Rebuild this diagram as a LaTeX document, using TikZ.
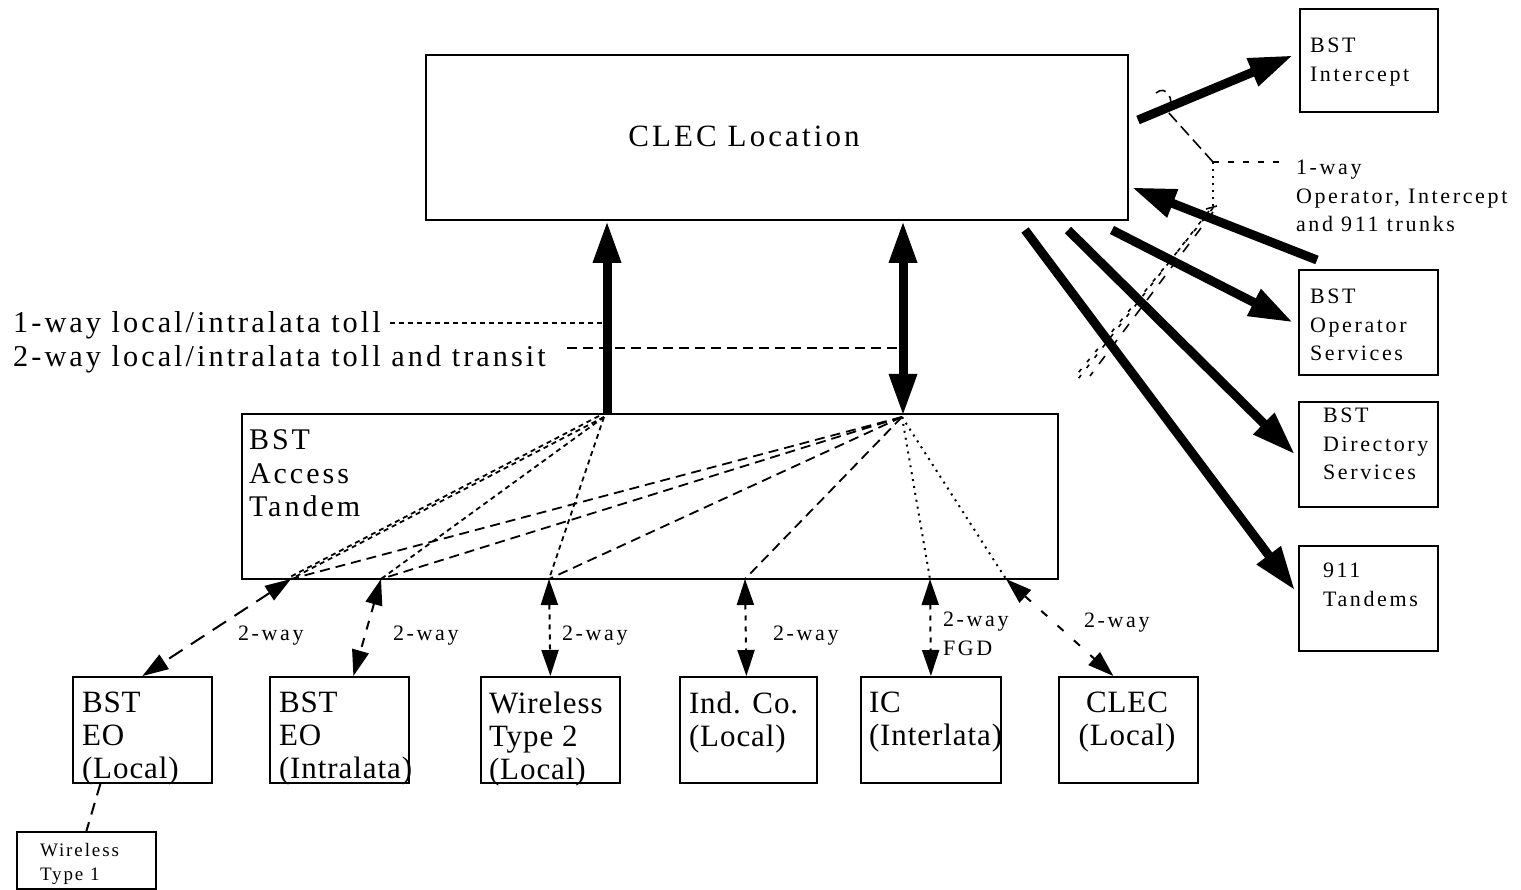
\documentclass[tikz,border=0pt]{standalone}
\usepackage{fontspec}
\setmainfont{Liberation Serif}
\newfontfamily\tf{Liberation Serif}[LetterSpace=10]
\newfontfamily\tfs{Liberation Serif}[LetterSpace=12]
\newfontfamily\tfn{Liberation Serif}[LetterSpace=3]
\usetikzlibrary{arrows.meta,calc}
\newcommand\fbig{\tf\fontsize{30.3}{33.5}\selectfont}
\newcommand\fat{\tf\fontsize{30}{33.5}\selectfont}
\newcommand\fbx{\tfn\fontsize{31}{33}\selectfont}
\newcommand\fclec{\tf\fontsize{31}{34}\selectfont}
\newcommand\fsm{\tfs\fontsize{22}{28.5}\selectfont}
\newcommand\ftiny{\tf\fontsize{19}{24}\selectfont}
\begin{document}
\begin{tikzpicture}[x=1pt,y=-1pt,
  box/.style={draw, line width=1.8pt, inner sep=0pt, anchor=north west},
  txt/.style={inner sep=0pt, outer sep=0pt, anchor=north west, align=left},
  lbl/.style={inner sep=0pt, outer sep=0pt, anchor=base west, font=\fsm},
  thickarrow/.style={line width=9pt, -{Triangle[length=44pt,width=28pt]}},
  bigtip/.style={-{Triangle[length=42pt,width=26pt]}},
  onew/.style={line width=1.8pt, dash pattern=on 5pt off 4pt},
  twow/.style={line width=1.8pt, dash pattern=on 10pt off 6pt},
  fgd/.style={line width=2pt, dash pattern=on 2pt off 5pt},
  ba/.style={line width=2pt, {Triangle[length=26pt,width=17pt]}-{Triangle[length=26pt,width=17pt]}}
]
\useasboundingbox (0,0) rectangle (1521,890);

% boxes
\node[box, minimum width=702pt, minimum height=165pt] (clec) at (425,54) {};
\node[box, minimum width=138pt, minimum height=103pt] (inter) at (1299,8) {};
\node[box, minimum width=139pt, minimum height=105pt] (oper) at (1298,269) {};
\node[box, minimum width=139pt, minimum height=105pt] (dir) at (1298,401) {};
\node[box, minimum width=139pt, minimum height=105pt] (t911) at (1298,545) {};
\node[box, minimum width=816pt, minimum height=165pt] (at) at (241,413) {};
\node[box, minimum width=139pt, minimum height=106pt] (eol) at (72,676) {};
\node[box, minimum width=139pt, minimum height=106pt] (eoi) at (269,676) {};
\node[box, minimum width=139pt, minimum height=106pt] (wl2) at (480,676) {};
\node[box, minimum width=137pt, minimum height=106pt] (ind) at (679,676) {};
\node[box, minimum width=140pt, minimum height=106pt] (ic) at (860,676) {};
\node[box, minimum width=139pt, minimum height=106pt] (clecl) at (1058,676) {};
\node[box, minimum width=139pt, minimum height=57pt] (wl1) at (16,831) {};

% box texts
\node[inner sep=0pt, anchor=base, font=\fclec] (tclec) at (744,147) {CLEC Location};
\node[txt, font=\fat] (tat) at (249,430) {BST\\Access\\Tandem};
\node[txt, font=\fbx] (teol) at (82,692) {BST\\EO\\(Local)};
\node[txt, font=\fbx] (teoi) at (279,692) {BST\\EO\\(Intralata)};
\node[txt, font=\fbx] (twl2) at (489,692) {Wireless\\Type 2\\(Local)};
\node[txt, font=\fbx] (tind) at (689,692) {Ind. Co.\\(Local)};
\node[txt, font=\fbx] (tic) at (869,692) {IC\\(Interlata)};
\node[inner sep=0pt, anchor=north, align=center, font=\fbx] (tclecl) at (1127,692) {CLEC\\(Local)};
\node[txt, font=\ftiny] (twl1) at (40,843) {Wireless\\Type 1};
\node[txt, font=\fsm] (tinter) at (1310,38) {BST\\Intercept};
\node[txt, font=\fsm] (toper) at (1310,289) {BST\\Operator\\Services};
\node[txt, font=\fsm] (tdir) at (1323,408) {BST\\Directory\\Services};
\node[txt, font=\fsm] (tt911) at (1323,563) {911\\Tandems};
\node[txt, font=\fsm] (trl) at (1296,160) {1-way\\Operator, Intercept\\and 911 trunks};

% legend texts
\node[inner sep=0pt, anchor=base west, font=\fbig] (l1) at (13,333) {1-way local/intralata toll};
\node[inner sep=0pt, anchor=base west, font=\fbig] (l2) at (13,367) {2-way local/intralata toll and transit};
\coordinate (l1a) at (390,323);
\coordinate (l1b) at (602,323);
\coordinate (l2a) at (567,348);
\coordinate (l2b) at (898,348);
\draw[onew] (l1a) -- (l1b);
\draw[twow] (l2a) -- (l2b);

% thick vertical arrows
\coordinate (p1) at (607,413);
\coordinate (p2) at (903,416);
\draw[line width=9pt, bigtip] (p1) -- (p1 |- clec.south);
\draw[line width=9pt, {Triangle[length=42pt,width=26pt]}-{Triangle[length=42pt,width=26pt]}] (p2) -- (p2 |- clec.south);

% hub lines inside access tandem
\coordinate (h1) at (604,417);
\coordinate (h2) at (902,417);
\coordinate (q1) at (291,579);
\coordinate (q2) at (381,579);
\coordinate (q3) at (549,579);
\coordinate (q4) at (745,579);
\coordinate (q5) at (930,579);
\coordinate (q6) at (1006,579);
\draw[onew] (h1) -- (q1);
\draw[onew] ([shift={(-5,-1)}]h1) -- ([shift={(-3,-1)}]q1);
\draw[onew] (h1) -- (q2);
\draw[onew] (h1) -- (q3);
\draw[twow] (h2) -- (q1);
\draw[twow] (h2) -- (q2);
\draw[twow] (h2) -- (q3);
\draw[twow] (h2) -- (q4);
\draw[fgd] (h2) -- (q5);
\draw[fgd] (h2) -- (q6);

% 2-way arrows to lower offices
\draw[ba, dash pattern=on 16pt off 10pt] (q1) -- (eol.north);
\draw[ba, dash pattern=on 9pt off 9pt] (q2) -- ([xshift=14pt]eoi.north);
\draw[ba, dash pattern=on 5pt off 5pt] (q3) -- (wl2.north);
\draw[ba, dash pattern=on 5pt off 6pt] (q4) -- ([xshift=-2pt]ind.north);
\draw[ba, dash pattern=on 5pt off 6pt] (q5) -- (ic.north);
\draw[ba, dash pattern=on 8pt off 14pt] (q6) -- ([xshift=-15pt]clecl.north);
\node[lbl] (w1) at (238,640) {2-way};
\node[lbl] (w2) at (393,640) {2-way};
\node[lbl] (w3) at (562,640) {2-way};
\node[lbl] (w4) at (773,640) {2-way};
\node[lbl, align=left, anchor=north west] (w5) at (943,612) {2-way\\FGD};
\node[lbl] (w6) at (1084,627) {2-way};

% wireless type 1 link
\draw[line width=2pt, dash pattern=on 12pt off 8pt] ([xshift=-42pt]eol.south) -- (wl1.north);

% thick arrows on the right
\coordinate (s1) at (1138,120);
\coordinate (s2) at (1317,260);
\coordinate (s3) at (1112,230);
\coordinate (s4) at (1068,230);
\coordinate (s5) at (1025,230);
\draw[thickarrow] (s1) -- ([xshift=-6pt,yshift=5pt]inter.west);
\draw[thickarrow] (s2) -- ([xshift=3pt,yshift=-50pt]clec.east);
\draw[thickarrow] (s3) -- ([xshift=-5pt]oper.west);
\draw[thickarrow] (s4) -- ([xshift=-3pt]dir.west);
\draw[thickarrow] (s5) -- ([xshift=-3pt,yshift=8pt]t911.west);

% callout for the 1-way trunks
\coordinate (c0) at (1213,162);
\coordinate (c1) at (1284,162);
\coordinate (c2) at (1213,208);
\coordinate (c3) at (1168,112);
\draw[line width=1.6pt, dash pattern=on 6pt off 9pt] (c0) -- (c1);
\draw[line width=1.6pt, dash pattern=on 12pt off 6pt] (c0) -- (c3) .. controls (1176,100) and (1166,84) .. (1156,93);
\draw[line width=2pt, dash pattern=on 2pt off 5pt] (c0) -- (c2);
\draw[line width=1.6pt] (1206,209) -- (1217,206);
\draw[line width=1.6pt, dash pattern=on 4pt off 9pt] (c2) -- (1074,378);
\draw[line width=1.6pt, dash pattern=on 4pt off 9pt] ([shift={(-4,3)}]c2) -- (1078,379);
\draw[line width=1.6pt, dash pattern=on 10pt off 10pt] ([shift={(0,4)}]c2) -- (1090,376);
\end{tikzpicture}
\end{document}
